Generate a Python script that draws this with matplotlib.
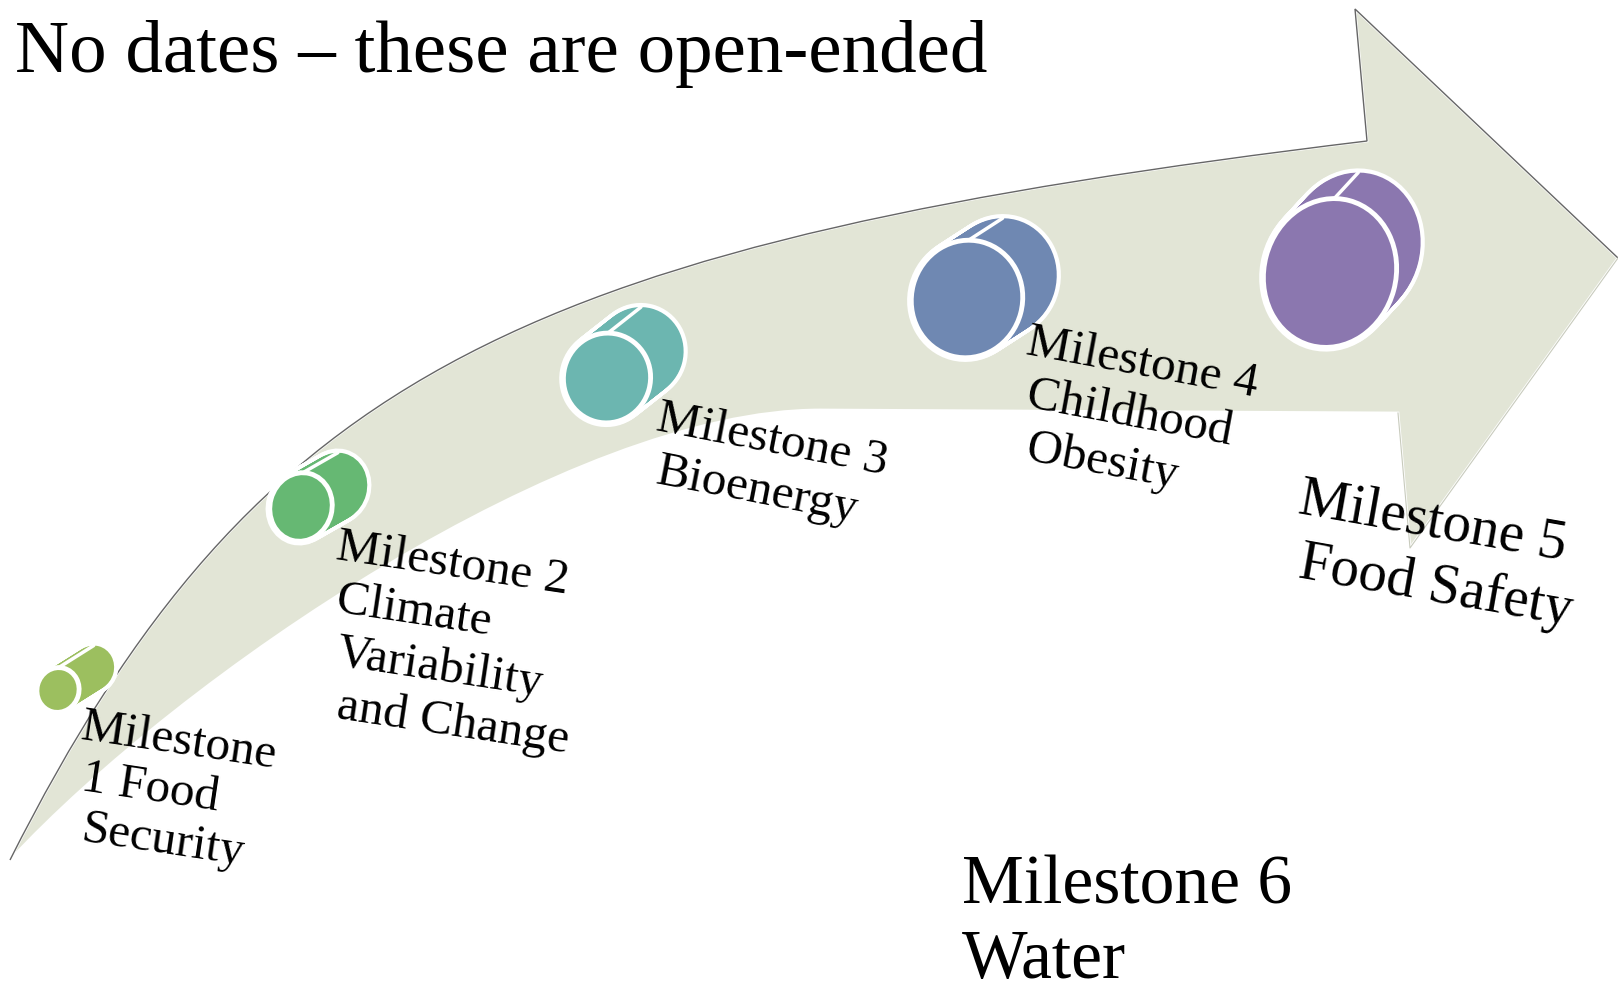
import numpy as np
import matplotlib
matplotlib.use('Agg')
import matplotlib.pyplot as plt
from matplotlib.path import Path
from matplotlib.patches import PathPatch, Ellipse

# arrow outline (pixel coords, y down): bezier for top edge, head corners, bezier for bottom edge
arrow_top = [(10, 860), (257, 370), (526, 243), (1367, 141)]
arrow_head = [(1355, 9), (1618, 258), (1410, 548), (1398, 413)]
arrow_bottom = [(820, 410), (570, 410), (180, 677), (10, 860)]

# milestone cylinders: front face centre, size, depth offset, colour
cyl_x = [58, 301, 607, 967, 1330]
cyl_y = [690, 507, 378, 299, 273]
cyl_w = [42, 62, 87, 111, 132]
cyl_h = [45, 69, 90, 118, 150]
cyl_dx = [35, 35, 33, 34, 24]
cyl_dy = [-22, -20, -26, -22, -26]
cyl_colors = ['#9CBF5F', '#66B873', '#6CB6B0', '#6F88B2', '#8B77AF']

# labels next to each cylinder
labels = [
    ['Milestone', '1 Food', 'Security'],
    ['Milestone 2', 'Climate', 'Variability', 'and Change'],
    ['Milestone 3', 'Bioenergy'],
    ['Milestone 4', 'Childhood', 'Obesity'],
    ['Milestone 5', 'Food Safety'],
]
label_x = [80, 335, 655, 1025, 1297]
label_y = [739, 559, 430, 354, 513]
label_step = [51, 53, 53, 53, 64]
label_rot = [8.5, 8.5, 11, 10.5, 10]
label_size = [35.5, 35.5, 35.5, 35.5, 41]

title = 'No dates \u2013 these are open-ended'
extra = ['Milestone 6', 'Water']

W, H = 1618, 981
fig = plt.figure(figsize=(W / 100, H / 100), dpi=100)
ax = fig.add_axes([0, 0, 1, 1])
ax.set_xlim(0, W)
ax.set_ylim(H, 0)
ax.set_aspect('auto')
ax.axis('off')

# the arrow
verts = [arrow_top[0]] + arrow_top[1:] + arrow_head + [arrow_bottom[0]] + arrow_bottom[1:] + [arrow_top[0]]
codes = ([Path.MOVETO] + [Path.CURVE4] * 3 + [Path.LINETO] * 4 + [Path.LINETO]
         + [Path.CURVE4] * 3 + [Path.CLOSEPOLY])
ax.add_patch(PathPatch(Path(verts, codes), facecolor='#E2E5D6', edgecolor='white', lw=2, zorder=1))
top_verts = arrow_top + arrow_head[:2]
top_codes = [Path.MOVETO] + [Path.CURVE4] * 3 + [Path.LINETO] * 2
ax.add_patch(PathPatch(Path(top_verts, top_codes), facecolor='none', edgecolor='#666666', lw=1.0, zorder=2))
ax.plot([arrow_head[1][0], arrow_head[2][0], arrow_head[3][0]],
        [arrow_head[1][1], arrow_head[2][1], arrow_head[3][1]], color='#c8cbbd', lw=0.8, zorder=2)

# cylinders
ang = 15
for cx, cy, w, h, dx, dy, c in zip(cyl_x, cyl_y, cyl_w, cyl_h, cyl_dx, cyl_dy, cyl_colors):
    ts = np.linspace(0, 1, 30)
    for t in ts:
        ax.add_patch(Ellipse((cx + dx * t, cy + dy * t), w, h, angle=ang,
                             facecolor='white', edgecolor='white', lw=6, zorder=3))
    for t in ts:
        ax.add_patch(Ellipse((cx + dx * t, cy + dy * t), w, h, angle=ang,
                             facecolor=c, edgecolor='none', zorder=4))
    # white divider line across the top of the body
    phi = np.linspace(0, 2 * np.pi, 360)
    ex = w / 2 * np.cos(phi)
    ey = h / 2 * np.sin(phi)
    a = np.radians(ang)
    px = cx + ex * np.cos(a) - ey * np.sin(a)
    py = cy + ex * np.sin(a) + ey * np.cos(a)
    k = np.argmin(py)
    ax.plot([px[k], px[k] + dx], [py[k], py[k] + dy], color='white', lw=2.5,
            solid_capstyle='round', zorder=5)
    ax.add_patch(Ellipse((cx, cy), w, h, angle=ang, facecolor=c,
                         edgecolor='white', lw=3.5, zorder=6))

# milestone labels
for lines, x0, y0, step, rot, fs in zip(labels, label_x, label_y, label_step, label_rot, label_size):
    for i, line in enumerate(lines):
        ax.text(x0, y0 + i * step, line, rotation=-rot, rotation_mode='anchor',
                ha='left', va='baseline', fontsize=fs, family='Liberation Serif',
                color='black', zorder=7)

ax.text(15, 72, title, ha='left', va='baseline', fontsize=54,
        family='Liberation Serif', color='black', zorder=7)
for i, line in enumerate(extra):
    ax.text(962, 903 + i * 75, line, ha='left', va='baseline', fontsize=50,
            family='Liberation Serif', color='black', zorder=7)

fig.savefig('out.png', dpi=100, facecolor='white')
